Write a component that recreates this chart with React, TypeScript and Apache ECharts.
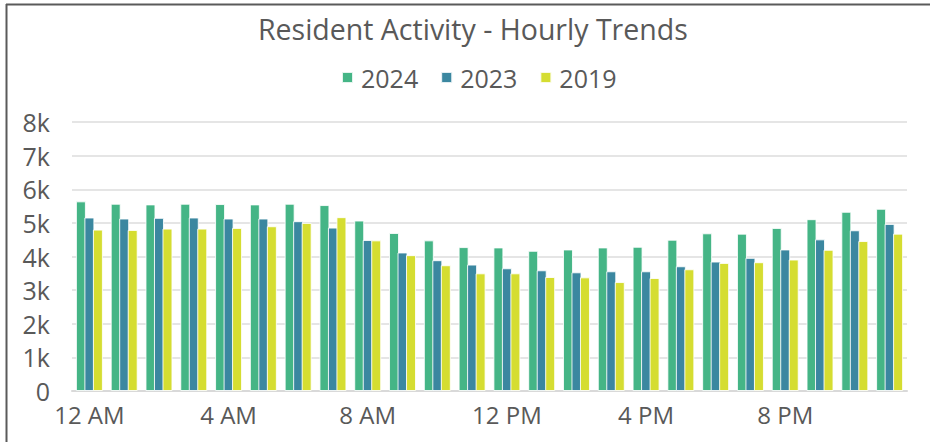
import React, { useEffect, useRef } from "react";
import * as echarts from "echarts";

const hours = [
  "12 AM", "1 AM", "2 AM", "3 AM", "4 AM", "5 AM", "6 AM", "7 AM",
  "8 AM", "9 AM", "10 AM", "11 AM", "12 PM", "1 PM", "2 PM", "3 PM",
  "4 PM", "5 PM", "6 PM", "7 PM", "8 PM", "9 PM", "10 PM", "11 PM",
];

const s2024 = [
  5640, 5570, 5550, 5570, 5560, 5550, 5570, 5530,
  5070, 4700, 4480, 4280, 4270, 4170, 4210, 4270,
  4290, 4500, 4690, 4680, 4850, 5110, 5330, 5420,
];
const s2023 = [
  5160, 5130, 5150, 5160, 5130, 5130, 5050, 4860,
  4490, 4120, 3890, 3760, 3650, 3590, 3530, 3560,
  3560, 3710, 3850, 3960, 4210, 4510, 4780, 4970,
];
const s2019 = [
  4800, 4790, 4830, 4830, 4850, 4900, 5000, 5170,
  4480, 4040, 3740, 3500, 3500, 3390, 3380, 3240,
  3360, 3620, 3810, 3830, 3910, 4200, 4460, 4680,
];

const seriesNames = ["2024", "2023", "2019"];
const colors = ["#45B586", "#3B87A0", "#D5DD31"];
const yTicks = [0, 1000, 2000, 3000, 4000, 5000, 6000, 7000, 8000];

const FONT = "'Open Sans', 'Noto Sans', sans-serif";

export default function App() {
  const ref = useRef<HTMLDivElement>(null);

  useEffect(() => {
    document.body.style.margin = "0";
    if (!ref.current) return;
    const chart = echarts.init(ref.current, null, { renderer: "svg" });
    const data = [s2024, s2023, s2019];
    chart.setOption({
      animation: false,
      backgroundColor: "#ffffff",
      title: {
        text: "Resident Activity - Hourly Trends",
        left: 253,
        top: 9,
        textStyle: {
          fontFamily: FONT,
          fontSize: 28.5,
          fontWeight: "normal",
          color: "#595959",
        },
      },
      legend: {
        data: seriesNames,
        top: 60,
        left: 336,
        icon: "rect",
        itemWidth: 11,
        itemHeight: 11,
        itemGap: 22,
        textStyle: {
          fontFamily: FONT,
          fontSize: 25,
          color: "#595959",
          padding: [0, 0, 0, 3],
        },
      },
      grid: {
        left: 72,
        right: 23,
        top: 122,
        bottom: 51,
        containLabel: false,
      },
      xAxis: {
        type: "category",
        data: hours,
        axisTick: { show: false },
        axisLine: { lineStyle: { color: "#d9d9d9", width: 2 } },
        axisLabel: {
          interval: 3,
          fontFamily: FONT,
          fontSize: 24,
          color: "#595959",
          margin: 11,
        },
      },
      yAxis: {
        type: "value",
        min: 0,
        max: 8000,
        interval: 1000,
        axisLine: { show: false },
        axisTick: { show: false },
        splitLine: { lineStyle: { color: "#dddddd", width: 1.5 } },
        axisLabel: {
          fontFamily: FONT,
          fontSize: 25,
          color: "#595959",
          margin: 22,
          formatter: (v: number) =>
            yTicks.includes(v) ? (v === 0 ? "0" : v / 1000 + "k") : "",
        },
      },
      series: seriesNames.map((name, i) => ({
        name,
        type: "bar",
        data: data[i],
        barWidth: 10,
        barGap: "-15%",
        itemStyle: {
          color: colors[i],
          borderColor: "rgba(255,255,255,0.85)",
          borderWidth: 1,
        },
      })),
      graphic: [
        {
          type: "line",
          shape: { x1: 6, y1: 4.5, x2: 930, y2: 4.5 },
          style: { stroke: "#5a5a5a", lineWidth: 2 },
        },
        {
          type: "line",
          shape: { x1: 6.5, y1: 4, x2: 6.5, y2: 442 },
          style: { stroke: "#5a5a5a", lineWidth: 2 },
        },
      ],
    });
    return () => chart.dispose();
  }, []);

  return <div ref={ref} style={{ width: 930, height: 442 }} />;
}
